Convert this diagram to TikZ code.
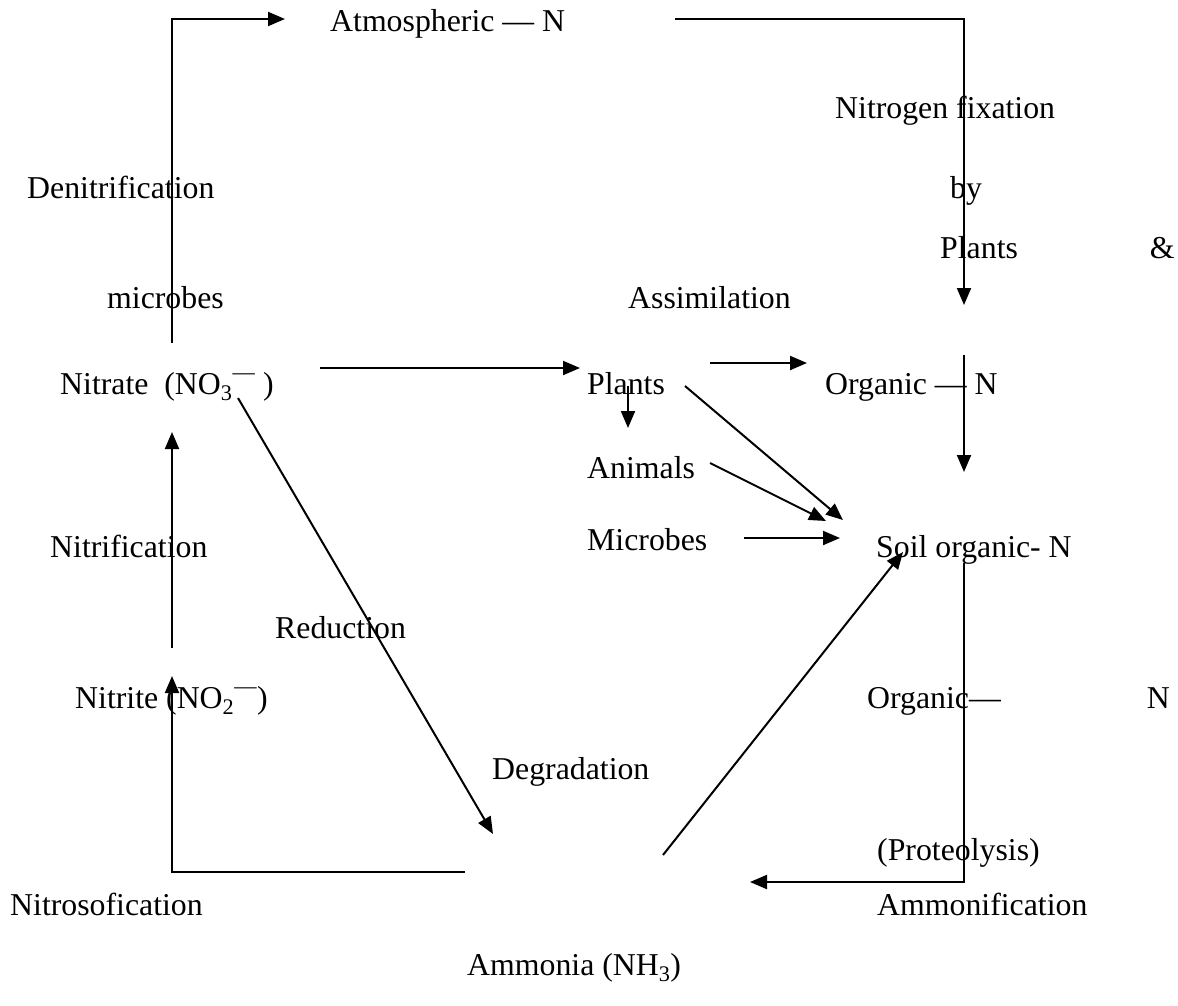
\documentclass[tikz,border=0pt]{standalone}
\usepackage{fontspec}
\setmainfont{Liberation Serif}
\usetikzlibrary{arrows.meta}

\newcommand{\iondash}{\textsuperscript{\raisebox{0.25em}{—}}}

\tikzset{
  lbl/.style={inner sep=0pt, anchor=base west, font=\fontsize{31.8}{38}\selectfont},
  flow/.style={line width=2pt, ->},
}

\begin{document}
\begin{tikzpicture}[x=1pt, y=-1pt, >={Triangle[length=17pt,width=14pt]}]
    \useasboundingbox (0,0) rectangle (1178,1005);
    % labels
    \node[lbl] (atm) at (330,31) {Atmospheric — N};
    \node[lbl] (fixn) at (835,118) {Nitrogen fixation};
    \node[lbl] (denit) at (27,198) {Denitrification};
    \node[lbl] (by) at (950,198) {by};
    \node[lbl] (plfix) at (940,258) {Plants\hspace{132pt}\&};
    \node[lbl] (mic) at (107,308) {microbes};
    \node[lbl] (assim) at (628,308) {Assimilation};
    \node[lbl] (nitrate) at (60,394) {Nitrate\ \ (NO\textsubscript{3}\iondash\ )};
    \node[lbl] (plants) at (587,394) {Plants};
    \node[lbl] (orgn) at (825,394) {Organic — N};
    \node[lbl] (animals) at (587,478) {Animals};
    \node[lbl] (microbes) at (587,550) {Microbes};
    \node[lbl] (nitrif) at (50,557) {Nitrification};
    \node[lbl] (soil) at (876,557) {Soil organic- N};
    \node[lbl] (reduct) at (275,638) {Reduction};
    \node[lbl] (nitrite) at (75,708) {Nitrite (NO\textsubscript{2}\iondash)};
    \node[lbl] (orgn2) at (867,708) {Organic—\hspace{146pt}N};
    \node[lbl] (degr) at (492,779) {Degradation};
    \node[lbl] (proteo) at (877,860) {(Proteolysis)};
    \node[lbl] (nitroso) at (10,915) {Nitrosofication};
    \node[lbl] (ammonif) at (877,915) {Ammonification};
    \node[lbl] (ammonia) at (467,975) {Ammonia (NH\textsubscript{3})};
    % arrow ends
    \coordinate (den0) at (172,343);  \coordinate (den1) at (285,19);
    \coordinate (fix0) at (675,19);   \coordinate (fix1) at (964,305);
    \coordinate (org0) at (964,355);  \coordinate (org1) at (964,472);
    \coordinate (asm0) at (320,368);  \coordinate (asm1) at (580,368);
    \coordinate (po0) at (710,363);   \coordinate (po1) at (807,363);
    \coordinate (pa0) at (628,386);   \coordinate (pa1) at (628,428);
    \coordinate (ps0) at (685,386);   \coordinate (ps1) at (843,520);
    \coordinate (as0) at (710,463);   \coordinate (as1) at (826,521);
    \coordinate (ms0) at (744,538);   \coordinate (ms1) at (840,538);
    \coordinate (amf0) at (964,563);  \coordinate (amf1) at (750,882);
    \coordinate (up0) at (663,855);   \coordinate (up1) at (903,552);
    \coordinate (red0) at (238,398);  \coordinate (red1) at (493,834);
    \coordinate (nit0) at (172,648);  \coordinate (nit1) at (172,432);
    \coordinate (nso0) at (465,872);  \coordinate (nso1) at (172,676);
    % arrows
    \draw[flow] (den0) |- (den1);
    \draw[flow] (fix0) -| (fix1);
    \draw[flow] (org0) -- (org1);
    \draw[flow] (asm0) -- (asm1);
    \draw[flow] (po0) -- (po1);
    \draw[flow] (pa0) -- (pa1);
    \draw[flow] (ps0) -- (ps1);
    \draw[flow] (as0) -- (as1);
    \draw[flow] (ms0) -- (ms1);
    \draw[flow] (amf0) |- (amf1);
    \draw[flow] (up0) -- (up1);
    \draw[flow] (red0) -- (red1);
    \draw[flow] (nit0) -- (nit1);
    \draw[flow] (nso0) -| (nso1);
\end{tikzpicture}
\end{document}
